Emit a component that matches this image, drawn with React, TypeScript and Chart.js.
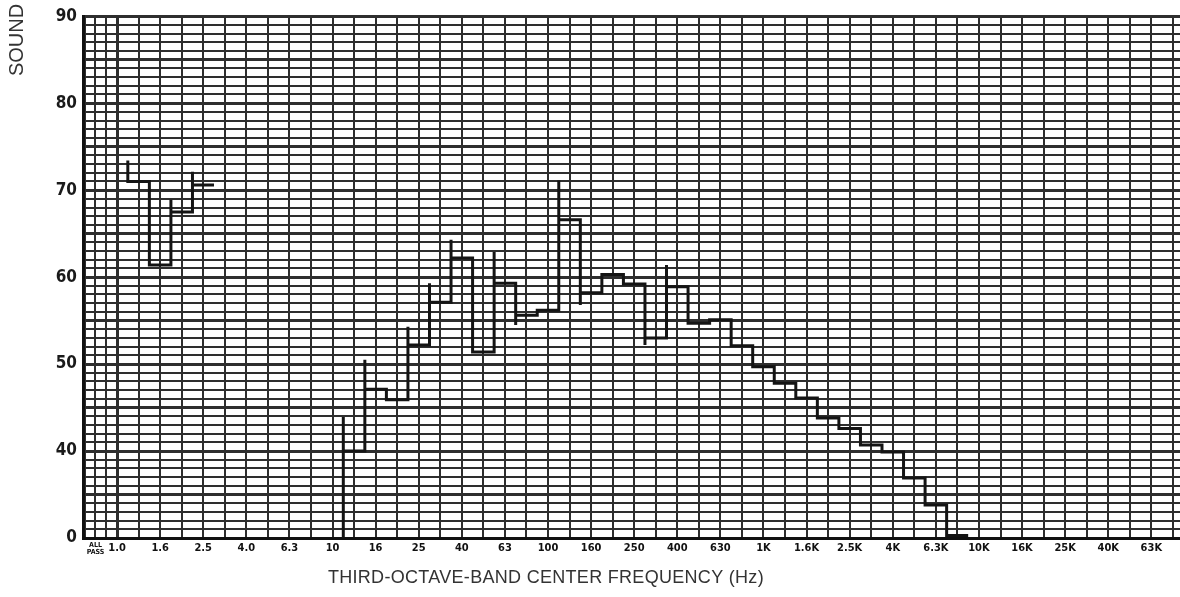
import React, { useEffect, useRef } from "react";
import { Chart, registerables } from "chart.js";

Chart.register(...registerables);

// Third-octave band centres (index 0 = 1.0 Hz)
const bands: string[] = [
  "1.0", "1.25", "1.6", "2.0", "2.5", "3.15", "4.0", "5.0", "6.3", "8.0",
  "10", "12.5", "16", "20", "25", "31.5", "40", "50", "63", "80",
  "100", "125", "160", "200", "250", "315", "400", "500", "630", "800",
  "1K", "1.25K", "1.6K", "2K", "2.5K", "3.15K", "4K", "5K", "6.3K", "8K",
  "10K", "12.5K", "16K", "20K", "25K", "31.5K", "40K", "50K", "63K", "80K",
];

// Bands that carry a printed label under the axis
const labeledBands: string[] = [
  "1.0", "1.6", "2.5", "4.0", "6.3", "10", "16", "25", "40", "63", "100", "160",
  "250", "400", "630", "1K", "1.6K", "2.5K", "4K", "6.3K", "10K", "16K", "25K", "40K", "63K",
];
const allPassLabel: string[] = ["ALL", "PASS"];
// Grid columns of the ALL PASS strip, left of the 1.0 Hz band
const allPassColumns: number[] = [-1.5, -1.0, -0.5];

// Recorded band level (dB); null = no trace
const levels: (number | null)[] = [
  null, 71.0, 61.4, 67.5, 70.6, null, null, null, null, null,
  null, 40.0, 47.1, 45.9, 52.2, 57.1, 62.2, 51.4, 59.3, 55.6,
  56.2, 66.6, 58.2, 60.3, 59.2, 53.0, 58.9, 54.7, 55.1, 52.1,
  49.7, 47.8, 46.1, 43.8, 42.6, 40.7, 39.9, 36.9, 33.8, 30.3,
  null, null, null, null, null, null, null, null, null, null,
];

// Pen excursion at the leading edge of each band (overshoot / undershoot)
const edgeExtremes: (number | null)[] = [
  null, null, null, 68.9, 72.1, null, null, null, null, null,
  null, 43.9, 50.5, null, 54.3, 59.3, 64.3, null, 62.9, 54.5,
  null, 71.1, 56.8, null, null, 52.2, 61.4, null, null, null,
  null, null, null, null, null, null, null, null, null, null,
  null, null, null, null, null, null, null, null, null, null,
];

// Where the pen comes from when a trace segment begins
const segmentStart: (number | null)[] = [
  null, 73.4, null, null, null, null, null, null, null, null,
  null, 30, null, null, null, null, null, null, null, null,
  null, null, null, null, null, null, null, null, null, null,
  null, null, null, null, null, null, null, null, null, null,
  null, null, null, null, null, null, null, null, null, null,
];

const yTickValues: number[] = [30, 40, 50, 60, 70, 80, 90];
const yTickLabels: string[] = ["0", "40", "50", "60", "70", "80", "90"];

const xTitle = "THIRD-OCTAVE-BAND CENTER FREQUENCY (Hz)";
const yTitle = "SOUND";

function buildTrace() {
  const pts: { x: number; y: number | null }[] = [];
  for (let i = 0; i < levels.length; i++) {
    const L = levels[i];
    if (L == null) continue;
    const edge = i - 0.5;
    const prev = i > 0 ? levels[i - 1] : null;
    if (prev == null) {
      if (pts.length) pts.push({ x: edge, y: null });
      const s = segmentStart[i];
      if (s != null) pts.push({ x: edge, y: s });
    }
    const ex = edgeExtremes[i];
    if (ex != null) pts.push({ x: edge, y: ex });
    pts.push({ x: edge, y: L });
    pts.push({ x: i + 0.5, y: L });
  }
  return pts;
}

const narrow = "'Liberation Sans Narrow', 'DejaVu Sans Condensed', 'Liberation Sans', sans-serif";
const ink = "#2e2e2e";

const titlesPlugin = {
  id: "axisTitlesPlugin",
  afterDraw(chart: any) {
    const { ctx, chartArea } = chart;
    ctx.save();
    ctx.fillStyle = "#333";
    ctx.textAlign = "center";
    ctx.textBaseline = "middle";
    ctx.font = "18px 'Liberation Sans', Arial, sans-serif";
    try { (ctx as any).letterSpacing = "0.3px"; } catch (e) {}
    const cx = chartArea.left + (chartArea.right - chartArea.left) * 0.422;
    ctx.fillText(xTitle, cx, chart.height - 19);
    ctx.font = "20px 'Liberation Sans', Arial, sans-serif";
    try { (ctx as any).letterSpacing = "0px"; } catch (e) {}
    ctx.translate(17, 40);
    ctx.rotate(-Math.PI / 2);
    ctx.fillText(yTitle, 0, 0);
    ctx.restore();
  },
};

export default function App() {
  const ref = useRef<HTMLCanvasElement | null>(null);

  useEffect(() => {
    if (!ref.current) return;
    const labeledIdx = new Map<number, string>();
    labeledBands.forEach((b) => labeledIdx.set(bands.indexOf(b), b));

    const chart = new Chart(ref.current, {
      type: "line",
      data: {
        datasets: [
          {
            data: buildTrace() as any,
            borderColor: "#141414",
            borderWidth: 3,
            pointRadius: 0,
            tension: 0,
            spanGaps: false,
            borderJoinStyle: "miter",
            fill: false,
          },
        ],
      },
      options: {
        animation: false,
        responsive: false,
        devicePixelRatio: 1,
        layout: { padding: { top: 16, right: 0, left: 0, bottom: 0 } },
        plugins: { legend: { display: false }, tooltip: { enabled: false } },
        scales: {
          x: {
            type: "linear",
            min: -1.58,
            max: 49.33,
            afterBuildTicks: (scale: any) => {
              const t: { value: number }[] = allPassColumns.map((v) => ({ value: v }));
              for (let i = 0; i < bands.length; i++) t.push({ value: i });
              scale.ticks = t;
            },
            afterFit: (scale: any) => {
              scale.height = 59;
            },
            grid: {
              color: ink,
              lineWidth: (c: any) => (c.tick && c.tick.value === 0 ? 3 : 2),
              drawTicks: false,
            },
            border: { display: true, color: "#111", width: 3 },
            ticks: {
              autoSkip: false,
              maxRotation: 0,
              minRotation: 0,
              padding: 4,
              color: "#111",
              font: (c: any) =>
                c.tick && c.tick.value === -1
                  ? { family: narrow, size: 7, weight: "bold", lineHeight: 1.0 }
                  : { family: narrow, size: 11, weight: "bold" },
              callback: (v: any) => {
                const n = Number(v);
                if (n === -1) return allPassLabel;
                if (Number.isInteger(n) && labeledIdx.has(n)) return labeledIdx.get(n) as string;
                return "";
              },
            },
          },
          y: {
            type: "linear",
            min: 30,
            max: 90,
            afterFit: (scale: any) => {
              scale.width = 83;
            },
            grid: {
              color: ink,
              lineWidth: (c: any) => (c.tick && c.tick.value % 5 === 0 ? 3 : 2),
              drawTicks: false,
            },
            border: { display: true, color: "#111", width: 3 },
            ticks: {
              stepSize: 1,
              autoSkip: false,
              padding: 6,
              color: "#1a1a1a",
              font: { family: narrow, size: 17, weight: "bold" },
              callback: (v: any) => {
                const k = yTickValues.indexOf(Number(v));
                return k >= 0 ? yTickLabels[k] : "";
              },
            },
          },
        },
      },
      plugins: [titlesPlugin],
    });
    return () => chart.destroy();
  }, []);

  return (
    <div style={{ position: "fixed", left: 0, top: 0, width: 1180, height: 597, background: "#fff" }}>
      <canvas ref={ref} width={1180} height={597} style={{ display: "block" }} />
    </div>
  );
}
